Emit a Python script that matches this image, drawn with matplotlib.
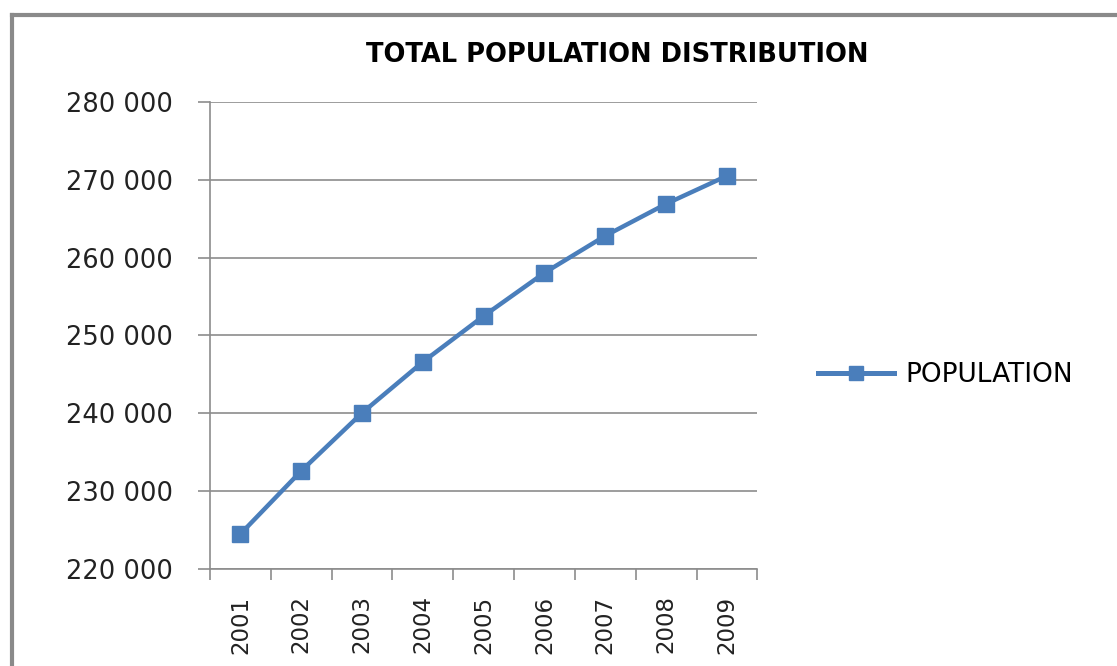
import matplotlib
matplotlib.use("Agg")
import matplotlib.pyplot as plt
from matplotlib.lines import Line2D

# population per year
years = ['2001', '2002', '2003', '2004', '2005', '2006', '2007', '2008', '2009']
population = [224500, 232600, 240050, 246600, 252500, 258050, 262800, 266900, 270500]
yticks = [220000, 230000, 240000, 250000, 260000, 270000, 280000]

blue = '#4a7ebb'
grid_c = '#8c8c8c'
txt_font = ['DejaVu Sans']

fig = plt.figure(figsize=(11.17, 6.66), dpi=100)
ax = fig.add_axes([0.188, 0.1456, 0.490, 0.7014])

x = list(range(len(years)))
ax.plot(x, population, color=blue, lw=3.2, marker='s', markersize=11,
        markerfacecolor=blue, markeredgecolor=blue, zorder=3)

ax.set_xlim(-0.5, len(years) - 0.5)
ax.set_ylim(220000, 280000)
ax.set_yticks(yticks)
ax.set_yticklabels([f"{v:,}".replace(',', ' ') for v in yticks],
                   fontsize=18.5, family=txt_font, color='#222222')
ax.yaxis.grid(True, color=grid_c, lw=1.2)
ax.set_axisbelow(True)

# category ticks between the years
ax.set_xticks([i - 0.5 for i in range(len(years) + 1)])
ax.set_xticklabels([])
ax.set_xticks(x, minor=True)
ax.set_xticklabels(years, minor=True, rotation=90, fontsize=16.5,
                   family=['Liberation Sans Narrow', 'DejaVu Sans'], color='#222222')
ax.tick_params(axis='x', which='minor', length=0, pad=19)
ax.tick_params(axis='x', which='major', length=8, width=1.2, color=grid_c)
ax.tick_params(axis='y', length=8.5, width=1.2, color=grid_c, pad=18)

for s in ['top', 'right']:
    ax.spines[s].set_visible(False)
for s in ['left', 'bottom']:
    ax.spines[s].set_color(grid_c)
    ax.spines[s].set_linewidth(1.2)

fig.text(0.553, 0.918, 'TOTAL POPULATION DISTRIBUTION', ha='center', va='center',
         fontsize=18.5, fontweight='bold', family=txt_font)

handle = Line2D([], [], color=blue, lw=3.6, marker='s', markersize=10,
                markerfacecolor=blue, markeredgecolor=blue)
fig.legend([handle], ['POPULATION'], loc='center left', bbox_to_anchor=(0.711, 0.437),
           frameon=False, handlelength=2.9, handletextpad=0.4,
           prop={'family': txt_font, 'size': 19})

# outer frame on the left and top edges
fig.add_artist(Line2D([0.0108, 0.0108], [0.0, 0.977], color='#8a8a8a', lw=3,
                      transform=fig.transFigure))
fig.add_artist(Line2D([0.0108, 1.0], [0.977, 0.977], color='#8a8a8a', lw=3,
                      transform=fig.transFigure))

fig.savefig('out.png', dpi=100)
